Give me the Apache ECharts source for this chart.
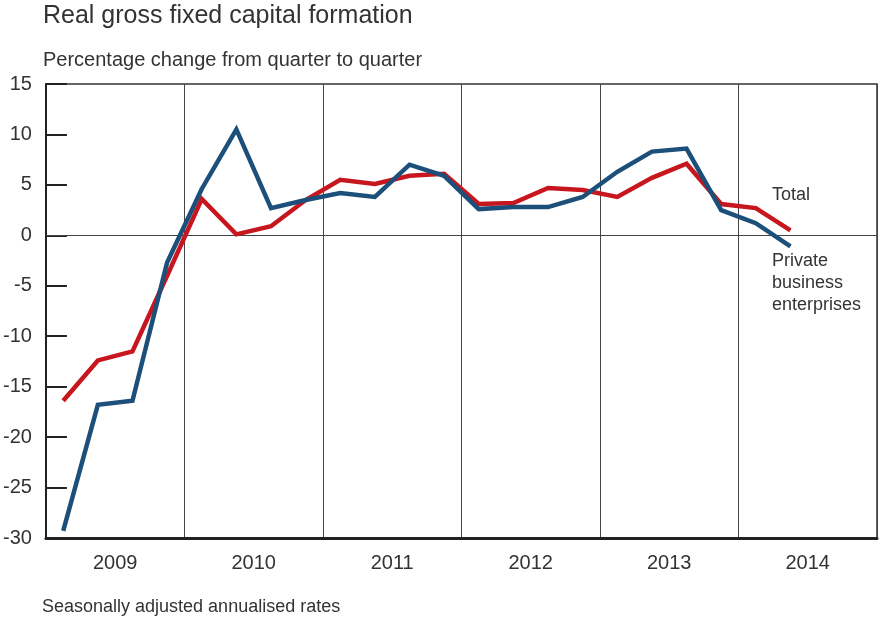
<!DOCTYPE html>
<html>
<head>
<meta charset="utf-8">
<script src="https://cdn.jsdelivr.net/npm/echarts@6/dist/echarts.min.js"></script>
<style>
  html, body { margin: 0; padding: 0; background: #fff; }
  #chart { width: 879px; height: 620px; }
</style>
</head>
<body>
<div id="chart"></div>
<script>
// Quarterly periods 2009 Q1 – 2014 Q4 (series run through 2014 Q2)
const years = ['2009', '2010', '2011', '2012', '2013', '2014'];
const quarters = [];
years.forEach(y => { for (let q = 1; q <= 4; q++) quarters.push(y + ' Q' + q); });

// Percentage change from quarter to quarter, seasonally adjusted annualised
const totalValues = [
  -16.4, -12.4, -11.5, -4.0,
  3.6, 0.1, 0.9, 3.5,
  5.5, 5.1, 5.9, 6.1,
  3.1, 3.2, 4.7, 4.5,
  3.8, 5.7, 7.1, 3.1,
  2.7, 0.5
];
const privateValues = [
  -29.3, -16.8, -16.4, -2.7,
  4.6, 10.5, 2.7, 3.5,
  4.2, 3.8, 7.0, 5.9,
  2.6, 2.8, 2.8, 3.8,
  6.3, 8.3, 8.6, 2.5,
  1.2, -1.1
];

const yTicks = { min: -30, max: 15, interval: 5 };

const FONT = 'Liberation Sans, Arial, sans-serif';
const TEXT = '#333333';
const RED = '#c8161e';
const BLUE = '#1c4f79';

const chart = echarts.init(document.getElementById('chart'), null, { renderer: 'canvas' });

chart.setOption({
  animation: false,
  backgroundColor: '#ffffff',
  textStyle: { fontFamily: FONT },
  title: [
    {
      text: 'Real gross fixed capital formation',
      left: 43, top: 4, padding: 0,
      textStyle: { fontFamily: FONT, fontSize: 25, fontWeight: 'normal', color: TEXT }
    },
    {
      text: 'Percentage change from quarter to quarter',
      left: 43, top: 50, padding: 0,
      textStyle: { fontFamily: FONT, fontSize: 20, fontWeight: 'normal', color: TEXT }
    },
    {
      text: 'Seasonally adjusted annualised rates',
      left: 42, top: 598, padding: 0,
      textStyle: { fontFamily: FONT, fontSize: 18, fontWeight: 'normal', color: TEXT }
    }
  ],
  grid: {
    left: 45, right: 2, top: 84, bottom: 82,
    show: true, borderColor: '#333', borderWidth: 1.5, backgroundColor: 'transparent'
  },
  xAxis: [
    {
      type: 'category',
      data: quarters,
      boundaryGap: true,
      axisLine: { show: true, onZero: false, lineStyle: { color: '#222', width: 3 } },
      axisTick: { show: false },
      axisLabel: { show: false },
      splitLine: { show: false }
    },
    {
      type: 'category',
      data: years,
      boundaryGap: true,
      position: 'bottom',
      axisLine: { show: false, onZero: false },
      axisTick: { show: false },
      axisLabel: { show: true, color: TEXT, fontSize: 20, fontFamily: FONT, margin: 15 },
      splitLine: { show: true, lineStyle: { color: '#444', width: 1 } }
    }
  ],
  yAxis: {
    type: 'value',
    min: yTicks.min, max: yTicks.max, interval: yTicks.interval,
    axisLine: { show: true, onZero: false, lineStyle: { color: '#222', width: 2 } },
    axisTick: { show: true, inside: true, length: 21, lineStyle: { color: '#222', width: 2 } },
    axisLabel: { color: TEXT, fontSize: 20, fontFamily: FONT, margin: 14 },
    splitLine: { show: false }
  },
  series: [
    {
      name: 'Total',
      type: 'line',
      data: totalValues,
      symbol: 'none',
      lineStyle: { color: RED, width: 4.5, join: 'miter' },
      z: 3,
      markLine: {
        silent: true,
        symbol: 'none',
        label: { show: false },
        lineStyle: { color: '#444', width: 1, type: 'solid' },
        data: [{ yAxis: 0 }],
        z: 1
      }
    },
    {
      name: 'Private business enterprises',
      type: 'line',
      data: privateValues,
      symbol: 'none',
      lineStyle: { color: BLUE, width: 4.5, join: 'miter' },
      z: 4
    }
  ],
  graphic: [
    {
      type: 'text', left: 772, top: 186,
      style: { text: 'Total', fill: TEXT, font: '18px ' + FONT }
    },
    {
      type: 'text', left: 772, top: 250,
      style: {
        text: 'Private\nbusiness\nenterprises',
        fill: TEXT, font: '18px ' + FONT, lineHeight: 22
      }
    }
  ]
});
</script>
</body>
</html>
